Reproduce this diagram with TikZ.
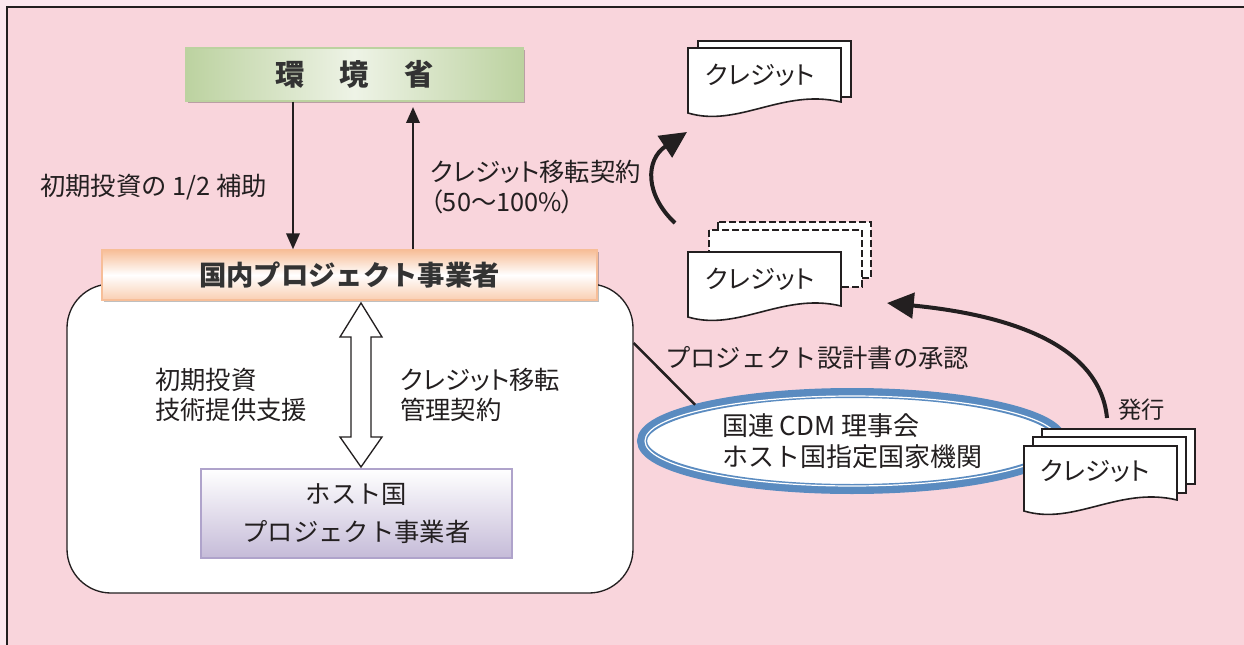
\documentclass[tikz,border=0pt]{standalone}
\usepackage{fontspec}
\setmainfont{Noto Sans CJK JP}
\newfontfamily\pfont{Noto Sans CJK JP}[RawFeature=+palt]
\usetikzlibrary{arrows.meta,shapes.geometric,shadows}
\definecolor{bgpink}{HTML}{F9D5DC}
\definecolor{outpink}{HTML}{FCE7EE}
\definecolor{grn}{HTML}{BCD2A0}
\definecolor{grnmid}{HTML}{EEF3E6}
\definecolor{peach}{HTML}{F7BE98}
\definecolor{lav}{HTML}{C5BBD8}
\definecolor{lavborder}{HTML}{AFA3CB}
\definecolor{cdmblue}{HTML}{5A8BC0}
\definecolor{ink}{HTML}{231F20}
\newcommand\fs[2]{\fontsize{#1}{#2}\selectfont}
\newcommand\creditfront[2]{%
  \draw[docline,fill=white] (#1,#2) -- ({#1+153},#2) -- ({#1+153},{#2+54})
    .. controls ({#1+95},{#2+40}) and ({#1+50},{#2+80}) .. (#1,{#2+65}) -- cycle;}
\begin{document}
\begin{tikzpicture}[x=0.75pt,y=-0.75pt,
  docline/.style={draw=ink,line width=1.2pt},
  backdoc/.style={draw=ink,line width=1.2pt,fill=white},
  dashdoc/.style={draw=ink,line width=1.1pt,fill=white,dash pattern=on 5pt off 2.5pt},
  lbl/.style={text=ink,inner sep=0pt,anchor=west,align=left,font=\fs{19pt}{22pt}},
  plainarrow/.style={-{Triangle[length=12pt,width=10pt]},draw=ink,line width=1.9pt},
  bendarrow/.style={-{Triangle[length=20pt,width=19pt]},draw=ink,line width=3pt},
  shadowed/.style={drop shadow={shadow xshift=1.5pt,shadow yshift=-1.5pt,opacity=.25,fill=black}},
]
\useasboundingbox (0,0) rectangle (1244,645);
\fill[outpink] (0,0) rectangle (1244,645);
\fill[bgpink] (7,7) rectangle (1244,645);
\draw[ink,line width=1.5pt] (7,645) -- (7,7) -- (1244,7);

% big rounded box
\node[draw=ink,line width=1pt,fill=white,rounded corners=33pt,
      minimum width=424.5pt,minimum height=231.75pt,inner sep=0pt] (bigbox) at (350,438.5) {};

% ministry box
\node[shadowed,draw=grn,line width=1pt,left color=grn,right color=grn,middle color=grnmid,
      minimum width=252.75pt,minimum height=39.75pt,inner sep=0pt,
      font=\bfseries\fs{22pt}{22pt},text=black!80] (kankyo) at (354.5,74.5)
      {環\hspace{1.2em}境\hspace{1.2em}省};

% domestic company box
\node[shadowed,draw=peach,line width=1pt,top color=peach,bottom color=peach!75,middle color=white,
      minimum width=371.25pt,minimum height=37.5pt,inner sep=0pt,
      font=\bfseries\fs{20.5pt}{20.5pt},text=black!80] (kokunai) at (349.5,275)
      {国内プロジェクト事業者};

% host country company box
\node[draw=lavborder,line width=1.5pt,top color=white,bottom color=lav,
      minimum width=233.25pt,minimum height=66.75pt,inner sep=0pt,align=center,
      font=\fs{19pt}{28pt},text=ink] (host) at (356.5,513.5)
      {ホスト国\\プロジェクト事業者};

% double arrow
\draw[ink,line width=1pt,fill=white] (361,303) -- (382,337) -- (371,337) -- (371,437)
  -- (382,437) -- (361,467) -- (340,437) -- (351,437) -- (351,337) -- (340,337) -- cycle;

% straight arrows
\coordinate (xa) at (293,0);
\coordinate (xb) at (413,0);
\draw[plainarrow] (kankyo.south -| xa) -- (kokunai.north -| xa);
\draw[plainarrow,shorten >=4pt] (kokunai.north -| xb) -- (kankyo.south -| xb);

% labels
\node[lbl] (t1) at (40,187) {初期投資の 1/2 補助};
\node[lbl,font=\pfont\fs{19pt}{22.5pt}] (t2) at (430,187) {クレジット移転契約\\（50～100\%）};
\node[lbl,font=\pfont\fs{19pt}{22pt}] (t3) at (155,395) {初期投資\\技術提供支援};
\node[lbl,font=\pfont\fs{19pt}{22pt}] (t4) at (400,395) {クレジット移転\\管理契約};
\node[lbl] (t5) at (665,358) {プロジェクト設計書の承認};
\node[lbl,font=\fs{17.5pt}{20pt}] (t6) at (1118,410) {発行};

% top credit stack
\draw[backdoc] (698,41) rectangle (851,97);
\creditfront{688}{48}
\node[lbl,font=\pfont\fs{19pt}{20pt}] (cr1) at (705,75) {クレジット};

% middle credit stack
\draw[dashdoc] (718,222) rectangle (871,278);
\draw[dashdoc] (709,230) rectangle (862,287);
\creditfront{688}{252}
\node[lbl,font=\pfont\fs{19pt}{20pt}] (cr2) at (705,279) {クレジット};

% CDM ellipse
\node[ellipse,draw=cdmblue,line width=7.5pt,fill=white,minimum width=315pt,minimum height=72pt,
      inner sep=0pt,align=left,font=\fs{19.5pt}{23pt},text=ink] (cdm) at (852,441)
      {国連 CDM 理事会\\ホスト国指定国家機関};
\draw[white,line width=0.9pt] (cdm.center) ellipse [x radius=207, y radius=45];

% connector bigbox -> cdm
\coordinate (l1) at (0,343);
\draw[ink,line width=1.9pt] (bigbox.east |- l1) -- (cdm.167);

% bottom-right credit stack
\draw[backdoc] (1042,429) rectangle (1195,484);
\draw[backdoc] (1033,437) rectangle (1186,493);
\creditfront{1024}{446}
\node[lbl,font=\pfont\fs{19pt}{20pt}] (cr3) at (1040,471) {クレジット};

% curved arrows
\coordinate (a1s) at (675,223);
\coordinate (a1e) at (687,132);
\draw[bendarrow] (a1s) .. controls (645,195) and (645,160) .. (a1e);
\coordinate (a2s) at (1107,418);
\coordinate (a2e) at (887,303);
\draw[bendarrow] (a2s) .. controls (1100,345) and (1010,315) .. (a2e);
\end{tikzpicture}
\end{document}
